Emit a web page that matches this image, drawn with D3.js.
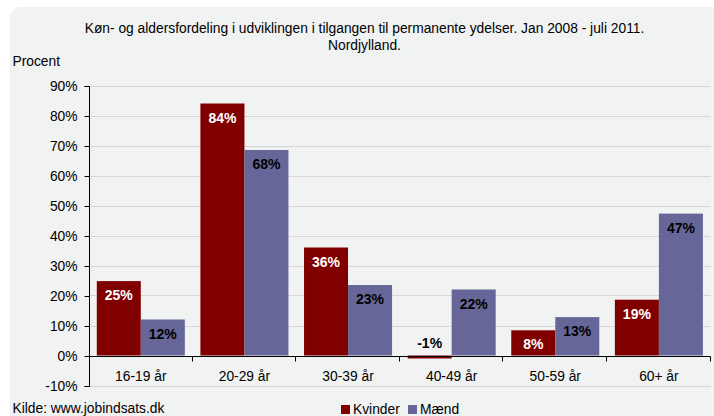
<!DOCTYPE html>
<html>
<head>
<meta charset="utf-8">
<script src="https://cdn.jsdelivr.net/npm/d3@7"></script>
<style>
  html, body { margin: 0; padding: 0; background: #fff; }
  svg { display: block; font-family: "Liberation Sans", Arial, sans-serif; }
</style>
</head>
<body>
<svg id="chart" width="714" height="416"></svg>
<script>
var categories = ['16-19 år', '20-29 år', '30-39 år', '40-49 år', '50-59 år', '60+ år'];
var seriesNames = ['Kvinder', 'Mænd'];
var kvinder = [24.8, 84, 36, -1, 8.4, 18.6];
var kvinderLabels = ['25%', '84%', '36%', '-1%', '8%', '19%'];
var maend = [12, 68.5, 23.5, 22, 12.8, 47.3];
var maendLabels = ['12%', '68%', '23%', '22%', '13%', '47%'];
var yTicks = [-10, 0, 10, 20, 30, 40, 50, 60, 70, 80, 90];
var titleLines = ['Køn- og aldersfordeling i udviklingen i tilgangen til permanente ydelser. Jan 2008 - juli 2011.', 'Nordjylland.'];

var colors = { 'Kvinder': '#800000', 'Mænd': '#666699' };
var labelColors = { 'Kvinder': '#ffffff', 'Mænd': '#000000' };
var fontSize = '13.8px';

var svg = d3.select('#chart');

// panel background with rounded corner
svg.append('rect')
    .attr('x', 10).attr('y', 7)
    .attr('width', 740).attr('height', 440)
    .attr('rx', 10)
    .attr('fill', '#f1f2f2');

var plot = { left: 89, right: 710.7, top: 85.5, bottom: 385.5 };

var x = d3.scaleBand().domain(categories).range([plot.left, plot.right]).paddingInner(0).paddingOuter(0);
var x1 = d3.scaleBand().domain(seriesNames).range([0, x.bandwidth()]).paddingInner(0).paddingOuter(0.177);
var y = d3.scaleLinear().domain([-10, 90]).range([plot.bottom, plot.top]);

// title
svg.append('g').selectAll('text').data(titleLines).enter().append('text')
    .attr('x', 364.5)
    .attr('y', function (d, i) { return 32.5 + i * 17; })
    .attr('text-anchor', 'middle')
    .attr('font-size', fontSize)
    .attr('fill', '#000')
    .text(function (d) { return d; });

svg.append('text')
    .attr('x', 12.5).attr('y', 65.5)
    .attr('font-size', fontSize)
    .text('Procent');

// gridlines
svg.append('g').selectAll('line').data(yTicks.filter(function (d) { return d !== 0; })).enter().append('line')
    .attr('x1', plot.left).attr('x2', plot.right)
    .attr('y1', function (d) { return Math.round(y(d)) + 0.5; })
    .attr('y2', function (d) { return Math.round(y(d)) + 0.5; })
    .attr('stroke', '#d6d6d6')
    .attr('stroke-width', 1);

// bars
var rows = categories.map(function (c, i) {
    return { cat: c, values: [
        { key: 'Kvinder', value: kvinder[i], label: kvinderLabels[i] },
        { key: 'Mænd', value: maend[i], label: maendLabels[i] }
    ] };
});

var groups = svg.append('g').selectAll('g').data(rows).enter().append('g')
    .attr('transform', function (d) { return 'translate(' + x(d.cat) + ',0)'; });

groups.selectAll('rect').data(function (d) { return d.values; }).enter().append('rect')
    .attr('x', function (d) { return x1(d.key); })
    .attr('width', x1.bandwidth())
    .attr('y', function (d) { return y(Math.max(0, d.value)); })
    .attr('height', function (d) { return Math.abs(y(d.value) - y(0)); })
    .attr('fill', function (d) { return colors[d.key]; });

groups.selectAll('text').data(function (d) { return d.values; }).enter().append('text')
    .attr('x', function (d) { return x1(d.key) + x1.bandwidth() / 2; })
    .attr('y', function (d) { return d.value < 0 ? y(0) - 8 : y(d.value) + 19; })
    .attr('text-anchor', 'middle')
    .attr('font-size', '14px')
    .attr('font-weight', 'bold')
    .attr('fill', function (d) { return d.value < 0 ? '#000' : labelColors[d.key]; })
    .text(function (d) { return d.label; });

// y axis
var yAxis = d3.axisLeft(y).tickValues(yTicks).tickSize(5).tickPadding(7)
    .tickFormat(function (d) { return d + '%'; });
var yg = svg.append('g').attr('transform', 'translate(' + (plot.left + 0.5) + ',0.5)').call(yAxis);
yg.select('.domain').attr('stroke', '#000').attr('d', 'M-5,' + Math.round(y(90)) + 'H0V' + Math.round(y(-10)) + 'H-5');
yg.selectAll('.tick line').attr('stroke', '#000');
yg.selectAll('.tick text').attr('font-size', fontSize).attr('font-family', '"Liberation Sans", Arial, sans-serif').attr('fill', '#000');

// x axis at zero
var y0 = Math.round(y(0)) + 0.5;
svg.append('line')
    .attr('x1', plot.left).attr('x2', plot.right)
    .attr('y1', y0).attr('y2', y0)
    .attr('stroke', '#000');

var bounds = categories.map(function (c) { return x(c); }).concat([plot.right]);
svg.append('g').selectAll('line').data(bounds.slice(1)).enter().append('line')
    .attr('x1', function (d) { return Math.round(d) - 0.5; })
    .attr('x2', function (d) { return Math.round(d) - 0.5; })
    .attr('y1', y0).attr('y2', y0 + 5)
    .attr('stroke', '#000');

svg.append('g').selectAll('text').data(categories).enter().append('text')
    .attr('x', function (d) { return x(d) + x.bandwidth() / 2; })
    .attr('y', 381)
    .attr('text-anchor', 'middle')
    .attr('font-size', fontSize)
    .text(function (d) { return d; });

// source
svg.append('text')
    .attr('x', 12.5).attr('y', 413)
    .attr('font-size', fontSize)
    .text('Kilde: www.jobindsats.dk');

// legend
var legend = svg.append('g').attr('transform', 'translate(341,405)');
var legendX = [0, 67];
var items = legend.selectAll('g').data(seriesNames).enter().append('g')
    .attr('transform', function (d, i) { return 'translate(' + legendX[i] + ',0)'; });
items.append('rect').attr('width', 9).attr('height', 9).attr('fill', function (d) { return colors[d]; });
items.append('text').attr('x', 12).attr('y', 8.5).attr('font-size', fontSize).text(function (d) { return d; });
</script>
</body>
</html>
